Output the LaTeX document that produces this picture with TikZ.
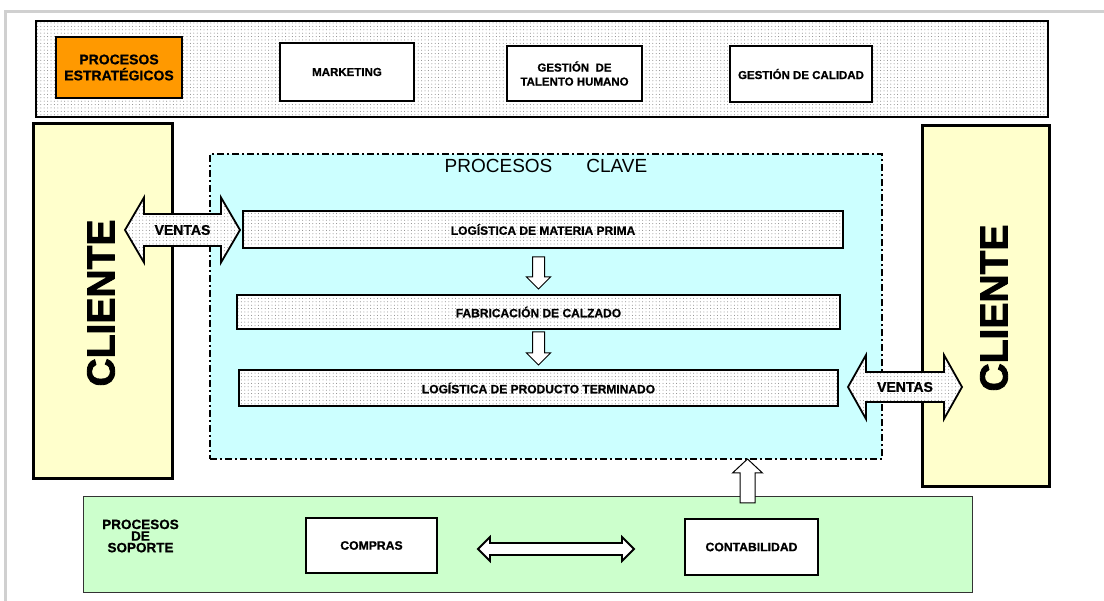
\documentclass[tikz,border=0pt]{standalone}
\usepackage{fontspec}
\setmainfont{Liberation Sans}
\newfontfamily\boldsans{Liberation Sans Bold}[FakeBold=0.8]
\newfontfamily\heavyfont{Liberation Sans Bold}[FakeBold=2.2]
\usetikzlibrary{patterns.meta,calc}

\definecolor{framegray}{RGB}{208,208,208}
\definecolor{stratorange}{RGB}{255,153,0}
\definecolor{clientyellow}{RGB}{255,255,204}
\definecolor{keycyan}{RGB}{204,255,255}
\definecolor{supportgreen}{RGB}{204,255,204}

% horizontal block arrow with two heads: style, left tip, right tip,
% head length, half head width, half shaft width
\newcommand\blockdouble[6]{%
  \draw[#1] (#2) -- ($(#2)+(#4,-#5)$) -- ($(#2)+(#4,-#6)$)
    -- ($(#3)+(-#4,-#6)$) -- ($(#3)+(-#4,-#5)$) -- (#3)
    -- ($(#3)+(-#4,#5)$) -- ($(#3)+(-#4,#6)$)
    -- ($(#2)+(#4,#6)$) -- ($(#2)+(#4,#5)$) -- cycle;}

\begin{document}
\begin{tikzpicture}[x=1pt,y=-1pt,
  every node/.style={inner sep=0pt, outer sep=0pt, align=center},
  dotfill/.style={preaction={fill=white},
    pattern={Dots[distance=3.4pt,radius=0.5pt]}, pattern color=black!50},
  lbl/.style={font=\boldsans\fontsize{11.5pt}{14pt}\selectfont},
  whitebox/.style={draw, line width=2pt, fill=white, lbl},
  procbox/.style={draw, line width=2.4pt, dotfill,
    font=\boldsans\fontsize{12pt}{14pt}\selectfont},
  clientbox/.style={draw, line width=3pt, fill=clientyellow},
  clientword/.style={rotate=90, font=\heavyfont\fontsize{39pt}{39pt}\selectfont},
  ventas/.style={draw, line width=1.8pt, line join=miter, dotfill},
  flowarrow/.style={draw, line width=1pt, fill=white, line join=miter},
  ventasword/.style={font=\boldsans\fontsize{14pt}{16pt}\selectfont}]

\useasboundingbox (0,0) rectangle (1104,601);
\fill[white] (0,0) rectangle (1104,601);

% page frame
\draw[framegray, line width=3pt] (5.5,601) -- (5.5,12) -- (1104,12);

% strategic processes band
\node[draw, line width=1.5pt, dotfill, minimum width=1012pt, minimum height=96pt]
  (band) at (542,69) {};
\node[draw, line width=2pt, fill=stratorange, minimum width=126pt, minimum height=61pt,
  font=\boldsans\fontsize{14pt}{16pt}\selectfont] (estr) at (119,67.5)
  {PROCESOS\\ESTRATÉGICOS};
\node[whitebox, minimum width=134pt, minimum height=58pt] (mkt) at (347,72) {MARKETING};
\node[whitebox, minimum width=135pt, minimum height=55pt] (tal) at (574.5,73.5)
  {GESTIÓN\ \ DE\\TALENTO HUMANO};
\node[whitebox, minimum width=142pt, minimum height=56pt] (cal) at (801,74)
  {GESTIÓN DE CALIDAD};

% key processes area
\node[draw, line width=2.2pt, fill=keycyan,
  dash pattern=on 7pt off 3pt on 2pt off 3pt,
  minimum width=672pt, minimum height=305pt] (clave) at (546,306.5) {};
\node[font=\fontsize{19pt}{22pt}\selectfont] (clavet) at (546,166)
  {PROCESOS\hspace{34pt}CLAVE};

% clients
\node[clientbox, minimum width=139pt, minimum height=355pt] (cliL) at (102.5,301.5) {};
\node[clientbox, minimum width=127pt, minimum height=361pt] (cliR) at (985.5,306.5) {};
\node[clientword] (cliLt) at (101,303) {CLIENTE};
\node[clientword] (cliRt) at (994,308) {CLIENTE};

% value chain
\node[procbox, minimum width=600pt, minimum height=37pt] (lmp) at (543,229.5)
  {LOGÍSTICA DE MATERIA PRIMA};
\node[procbox, minimum width=603pt, minimum height=34pt] (fab) at (538.5,312)
  {FABRICACIÓN DE CALZADO};
\node[procbox, minimum width=599pt, minimum height=36pt] (lpt) at (538.5,388)
  {LOGÍSTICA DE PRODUCTO TERMINADO};

% flow arrows between the key processes
\coordinate (d1t) at ($(lmp.south -| fab.north)+(0,9)$);
\coordinate (d1p) at ($(fab.north)+(0,-6)$);
\draw[flowarrow] ($(d1t)+(-6,0)$) -- ($(d1p)+(-6,-12)$) -- ($(d1p)+(-12,-12)$)
  -- (d1p) -- ($(d1p)+(12,-12)$) -- ($(d1p)+(6,-12)$) -- ($(d1t)+(6,0)$) -- cycle;
\coordinate (d2t) at ($(fab.south)+(0,3)$);
\coordinate (d2p) at ($(lpt.north)+(0,-5)$);
\draw[flowarrow] ($(d2t)+(-6,0)$) -- ($(d2p)+(-6,-12)$) -- ($(d2p)+(-12,-12)$)
  -- (d2p) -- ($(d2p)+(12,-12)$) -- ($(d2p)+(6,-12)$) -- ($(d2t)+(6,0)$) -- cycle;

% sales arrows towards the clients
\coordinate (vLb) at ($(lmp.west)+(-3,0.5)$);
\coordinate (vLa) at ($(vLb)+(-115,0)$);
\blockdouble{ventas}{vLa}{vLb}{19}{32.5}{16}
\node[ventasword] (vLt) at ($(vLa)!0.5!(vLb)$) {VENTAS};
\coordinate (vRa) at ($(lpt.east)+(10,-1)$);
\coordinate (vRb) at ($(vRa)+(114,0)$);
\blockdouble{ventas}{vRa}{vRb}{18}{32}{15}
\node[ventasword] (vRt) at ($(vRa)!0.5!(vRb)$) {VENTAS};

% support processes
\node[draw=black!80, line width=1pt, fill=supportgreen, minimum width=889pt,
  minimum height=95pt] (sop) at (527.5,544.5) {};
\node[font=\boldsans\fontsize{13.5pt}{11.6pt}\selectfont] (sopt) at (140.5,536)
  {PROCESOS\\DE\\SOPORTE};
\node[whitebox, minimum width=131pt, minimum height=55pt,
  font=\boldsans\fontsize{12.2pt}{14pt}\selectfont] (comp) at (371.5,545.5) {COMPRAS};
\node[whitebox, minimum width=133pt, minimum height=56pt,
  font=\boldsans\fontsize{12.2pt}{14pt}\selectfont] (cont) at (751.5,547) {CONTABILIDAD};

% exchange between purchasing and accounting
\coordinate (hA) at ($(comp.east)+(41,3.5)$);
\coordinate (hB) at ($(cont.west |- hA)+(-51,0)$);
\blockdouble{draw, line width=1.8pt, fill=white, line join=miter}{hA}{hB}{12}{12}{6}

% support feeding the key processes
\coordinate (uB) at ($(cont.north)+(-4,-16)$);
\coordinate (uP) at (clave.south -| uB);
\draw[flowarrow] ($(uB)+(-7.5,0)$) -- ($(uP)+(-7.5,14)$) -- ($(uP)+(-15,14)$)
  -- (uP) -- ($(uP)+(15,14)$) -- ($(uP)+(7.5,14)$) -- ($(uB)+(7.5,0)$) -- cycle;

\end{tikzpicture}
\end{document}
